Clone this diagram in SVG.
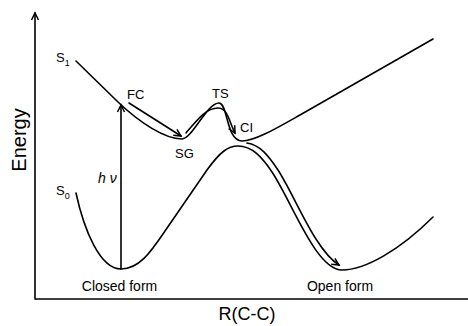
<svg xmlns="http://www.w3.org/2000/svg" width="468" height="326" viewBox="0 0 468 326">
<defs>
<marker id="arr" markerUnits="userSpaceOnUse" markerWidth="12" markerHeight="12" refX="8" refY="4" orient="auto" overflow="visible">
<path d="M1,0.5 L8,4 L1,7.5" fill="none" stroke="#000" stroke-width="1.5" stroke-linejoin="miter"/>
</marker>
<style>
.ln{fill:none;stroke:#000;stroke-width:1.6;stroke-linecap:round}
.t{font-family:"Liberation Sans",Arial,sans-serif;fill:#000}
.s{font-size:13px}
</style>
</defs>
<rect width="468" height="326" fill="#fff"/>
<g id="axes">
<line class="ln" x1="35" y1="299" x2="35" y2="13" marker-end="url(#arr)"/>
<line class="ln" x1="35" y1="299" x2="468" y2="299" style="stroke-linecap:butt"/>
<text class="t" x="0" y="0" font-size="20" text-anchor="middle" transform="translate(26,140) rotate(-90)">Energy</text>
<text class="t" x="247" y="320" font-size="18" text-anchor="middle">R(C-C)</text>
</g>
<g id="curves">
<path id="S1" class="ln" d="M76,61 L118,102 C140,123 165,139 182,139 C192,139 207,103 219,103 C228,103 226,141 242,141 C255,141 277,128 300,115 L433,39"/>
<path id="S0" class="ln" d="M76,193 C84,230 100,269 121,269 C140,269 152,250 165,231 L207,170 C220,152 228,146 238,146 C252,146 262,157 272,172 C292,202 316,270 342,270 C365,270 400,250 433,217"/>
</g>
<g id="connectors">
<line class="ln" x1="121" y1="269" x2="121" y2="105" marker-end="url(#arr)"/>
<path class="ln" d="M129,103 L181,136" marker-end="url(#arr)"/>
<path class="ln" d="M186,133 C197,120 206,108 218,108 C228,108 229,122 235,133" marker-end="url(#arr)"/>
<path class="ln" d="M247,143 C260,145 268,155 278,170 C296,198 315,250 339,265" marker-end="url(#arr)"/>
</g>
<g id="labels">
<text class="t s" x="56" y="62">S<tspan font-size="9" dy="4">1</tspan></text>
<text class="t s" x="56" y="195">S<tspan font-size="9" dy="4">0</tspan></text>
<text class="t" x="98" y="183" font-size="14" font-style="italic">h ν</text>
<text class="t s" x="127" y="99">FC</text>
<text class="t s" x="175" y="158">SG</text>
<text class="t s" x="212" y="98">TS</text>
<text class="t s" x="240" y="132">CI</text>
<text class="t" x="119.5" y="291" font-size="14" text-anchor="middle">Closed form</text>
<text class="t" x="340" y="291" font-size="14" text-anchor="middle">Open form</text>
</g>
</svg>
